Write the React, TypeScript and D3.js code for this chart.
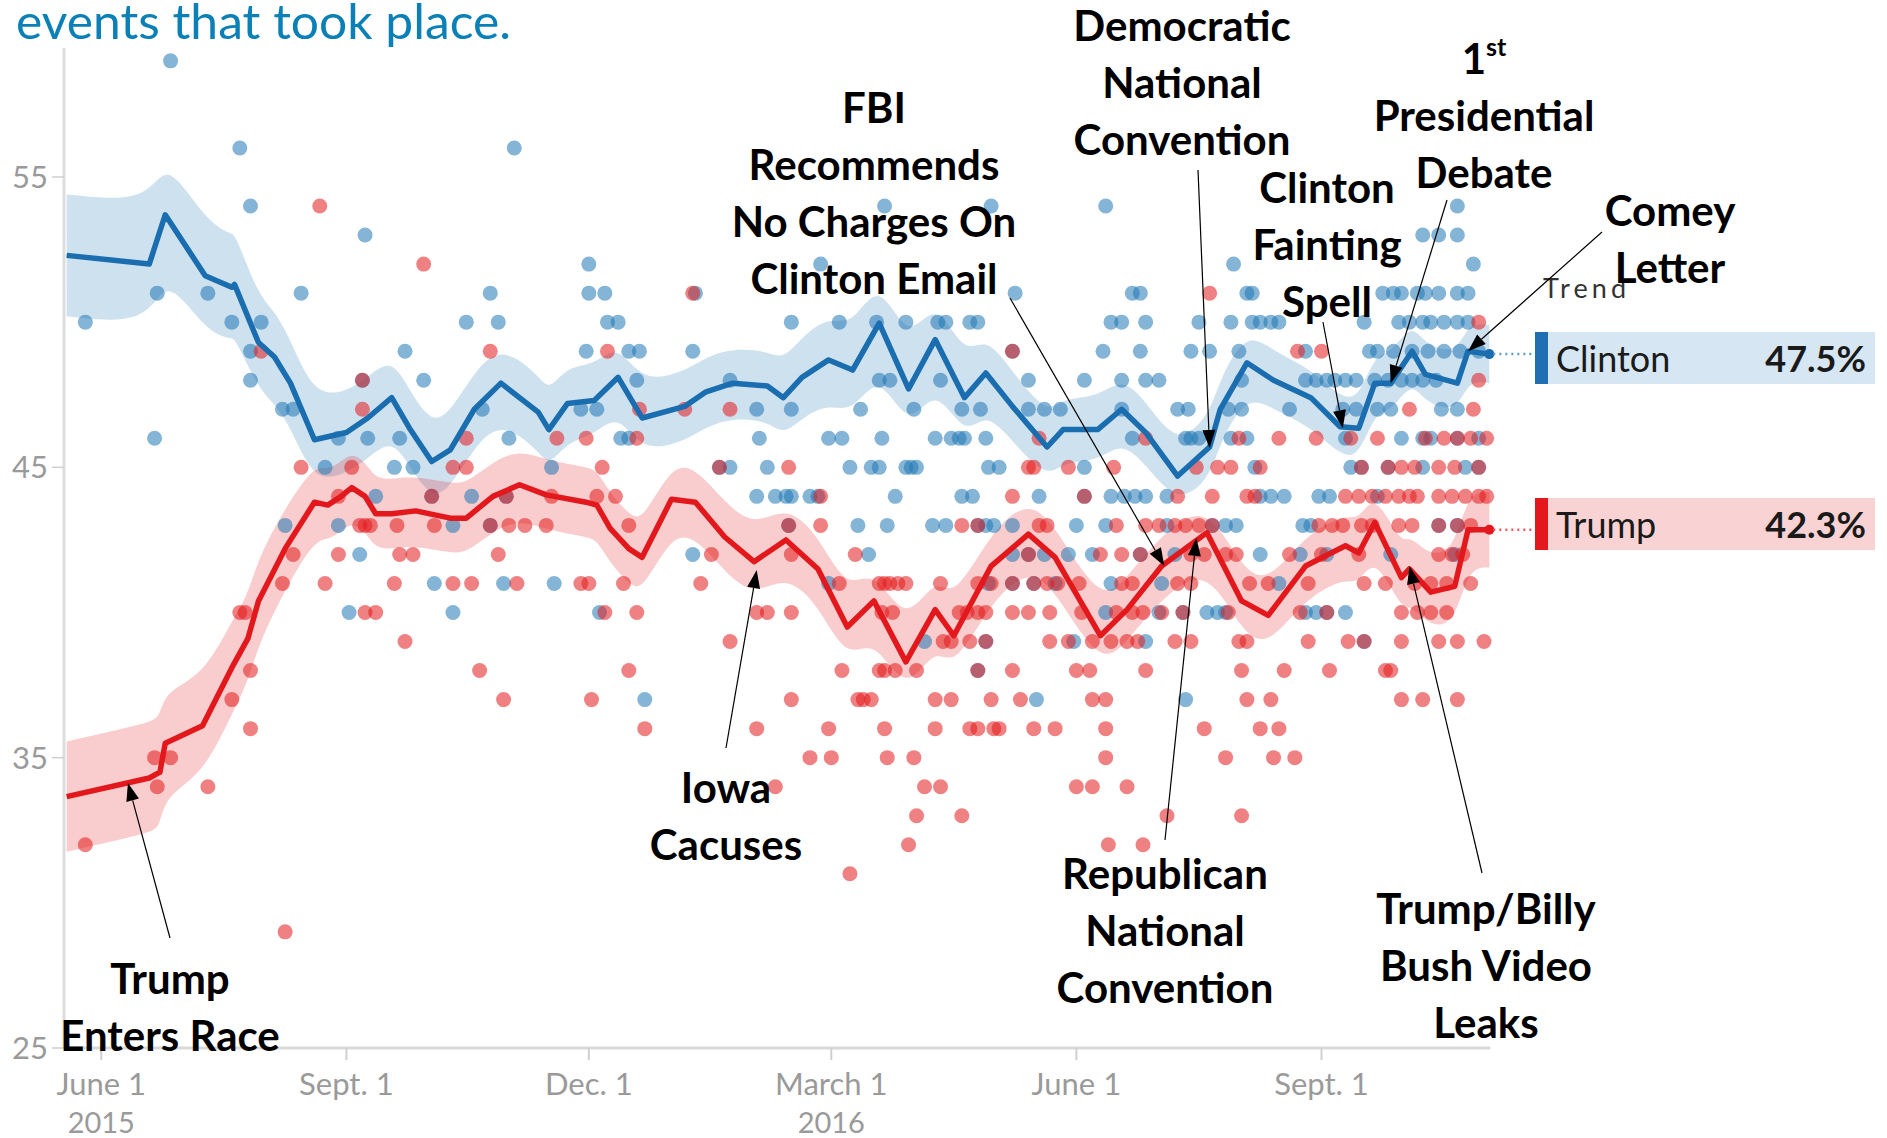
import React from "react";
import * as d3 from "d3";

// ---------- DATA ----------
const clintonTrend: [string, number][] = [
  ["2015-05-19", 52.3], ["2015-06-19", 52.0], ["2015-06-25", 53.7], ["2015-07-10", 51.6], ["2015-07-20", 51.2],
  ["2015-07-21", 51.3], ["2015-07-30", 49.3], ["2015-08-05", 48.8], ["2015-08-11", 47.9], ["2015-08-20", 45.95],
  ["2015-09-01", 46.2], ["2015-09-09", 46.7], ["2015-09-18", 47.4], ["2015-09-25", 46.3], ["2015-10-03", 45.2],
  ["2015-10-10", 45.6], ["2015-10-19", 47.0], ["2015-10-29", 47.9], ["2015-11-12", 46.9], ["2015-11-16", 46.3],
  ["2015-11-23", 47.2], ["2015-12-03", 47.3], ["2015-12-12", 48.1], ["2015-12-21", 46.7], ["2016-01-06", 47.1],
  ["2016-01-14", 47.6], ["2016-01-24", 47.9], ["2016-02-06", 47.8], ["2016-02-12", 47.4], ["2016-02-19", 48.1],
  ["2016-02-29", 48.7], ["2016-03-09", 48.35], ["2016-03-19", 49.97], ["2016-03-30", 47.7], ["2016-04-09", 49.4],
  ["2016-04-20", 47.4], ["2016-04-28", 48.25], ["2016-05-08", 47.1], ["2016-05-21", 45.7], ["2016-05-27", 46.3],
  ["2016-06-09", 46.3], ["2016-06-18", 47.0], ["2016-06-27", 46.2], ["2016-07-09", 44.7], ["2016-07-21", 45.7],
  ["2016-07-25", 47.0], ["2016-08-04", 48.6], ["2016-08-14", 48.0], ["2016-08-28", 47.4], ["2016-09-08", 46.4],
  ["2016-09-15", 46.35], ["2016-09-21", 47.9], ["2016-09-27", 47.9], ["2016-10-05", 49.0], ["2016-10-10", 48.2],
  ["2016-10-22", 47.9], ["2016-10-26", 49.0], ["2016-11-03", 48.9],
];
const clintonSpread: number[] = [
  2.1, 2.1, 2.0, 1.9, 1.8, 1.8, 1.6, 1.6, 1.5, 1.5,
  1.4, 1.4, 1.4, 1.3, 1.3, 1.3, 1.3, 1.3, 1.3, 1.3,
  1.3, 1.2, 1.2, 1.2, 1.2, 1.2, 1.2, 1.2, 1.3, 1.4,
  1.5, 1.5, 1.6, 1.5, 1.5, 1.4, 1.3, 1.2, 1.1, 1.1,
  1.1, 1.1, 1.1, 1.0, 1.1, 1.1, 1.1, 1.0, 1.0, 1.0,
  1.0, 1.0, 1.0, 1.0, 1.0, 1.0, 1.0, 1.0,
];
const trumpTrend: [string, number][] = [
  ["2015-05-19", 33.66], ["2015-06-19", 34.3], ["2015-06-23", 34.5], ["2015-06-25", 35.5], ["2015-07-09", 36.1],
  ["2015-07-20", 38.1], ["2015-07-26", 39.1], ["2015-07-30", 40.4], ["2015-08-09", 42.2], ["2015-08-20", 43.8],
  ["2015-08-25", 43.7], ["2015-08-30", 44.0], ["2015-09-03", 44.3], ["2015-09-08", 44.0], ["2015-09-12", 43.4],
  ["2015-09-18", 43.4], ["2015-09-27", 43.5], ["2015-10-10", 43.25], ["2015-10-16", 43.25], ["2015-10-26", 44.0],
  ["2015-11-05", 44.4], ["2015-11-15", 44.05], ["2015-11-30", 43.8], ["2015-12-04", 43.7], ["2015-12-09", 42.9],
  ["2015-12-16", 42.2], ["2015-12-21", 41.9], ["2016-01-01", 43.9], ["2016-01-10", 43.8], ["2016-01-21", 42.6],
  ["2016-02-01", 41.75], ["2016-02-13", 42.5], ["2016-02-25", 41.5], ["2016-03-07", 39.5], ["2016-03-17", 40.4],
  ["2016-03-29", 38.3], ["2016-04-09", 40.1], ["2016-04-16", 39.2], ["2016-04-30", 41.6], ["2016-05-14", 42.7],
  ["2016-05-24", 41.9], ["2016-06-10", 39.2], ["2016-06-20", 40.1], ["2016-07-03", 41.6], ["2016-07-20", 42.75],
  ["2016-08-02", 40.4], ["2016-08-12", 39.9], ["2016-08-26", 41.6], ["2016-09-10", 42.3], ["2016-09-15", 42.05],
  ["2016-09-21", 43.1], ["2016-10-01", 41.2], ["2016-10-04", 41.5], ["2016-10-12", 40.7], ["2016-10-21", 40.9],
  ["2016-10-26", 42.85], ["2016-11-03", 42.85],
];
const trumpSpread: number[] = [
  1.9, 1.9, 1.9, 1.8, 1.7, 1.6, 1.5, 1.5, 1.4, 1.3,
  1.2, 1.2, 1.2, 1.2, 1.2, 1.2, 1.2, 1.2, 1.2, 1.2,
  1.2, 1.2, 1.2, 1.2, 1.2, 1.2, 1.2, 1.2, 1.2, 1.2,
  1.2, 1.2, 1.2, 1.2, 1.2, 1.2, 1.2, 1.2, 1.2, 1.2,
  1.1, 1.1, 1.1, 1.1, 1.1, 1.1, 1.1, 1.1, 1.1, 1.1,
  1.1, 1.1, 1.2, 1.2, 1.3, 1.3, 1.3,
];

// polls grouped by value: [value, dates]
const clintonPolls: [number, string[]][] = [
  [59, ["2015-06-27"]],
  [56, ["2015-07-23", "2015-11-03"]],
  [54, ["2015-07-27", "2016-03-21", "2016-04-30", "2016-06-12", "2016-10-22"]],
  [53, ["2015-09-08", "2016-10-09", "2016-10-15", "2016-10-22"]],
  [52, ["2015-12-01", "2016-02-26", "2016-07-30", "2016-10-28"]],
  [51, ["2015-06-22", "2015-07-11", "2015-08-15", "2015-10-25", "2015-12-01", "2015-12-07", "2016-01-10", "2016-05-09", "2016-06-22", "2016-06-25", "2016-08-04", "2016-08-06", "2016-09-24", "2016-09-28", "2016-10-01", "2016-10-07", "2016-10-10", "2016-10-15", "2016-10-22", "2016-10-26"]],
  [50, ["2015-05-26", "2015-07-20", "2015-07-31", "2015-10-16", "2015-10-28", "2015-12-08", "2015-12-12", "2016-02-15", "2016-03-04", "2016-03-18", "2016-03-29", "2016-04-10", "2016-04-13", "2016-04-22", "2016-04-25", "2016-06-14", "2016-06-18", "2016-06-27", "2016-07-17", "2016-07-29", "2016-08-06", "2016-08-09", "2016-08-13", "2016-08-16", "2016-09-17", "2016-09-30", "2016-10-04", "2016-10-09", "2016-10-12", "2016-10-17", "2016-10-22", "2016-10-26"]],
  [49, ["2015-07-27", "2015-09-23", "2015-11-30", "2015-12-16", "2015-12-20", "2016-01-09", "2016-05-08", "2016-06-11", "2016-06-25", "2016-07-14", "2016-07-21", "2016-08-01", "2016-08-26", "2016-09-19", "2016-09-22", "2016-09-28", "2016-10-05", "2016-10-11", "2016-10-17", "2016-10-23", "2016-10-30"]],
  [48, ["2015-07-27", "2015-09-07", "2015-09-30", "2015-12-19", "2016-01-23", "2016-03-19", "2016-03-23", "2016-04-11", "2016-05-14", "2016-06-04", "2016-06-18", "2016-06-27", "2016-07-02", "2016-08-02", "2016-08-26", "2016-08-30", "2016-09-03", "2016-09-06", "2016-09-10", "2016-09-14", "2016-09-21", "2016-09-26", "2016-10-01", "2016-10-05", "2016-10-09", "2016-10-14"]],
  [47, ["2015-08-08", "2015-08-12", "2015-10-22", "2015-11-28", "2015-12-04", "2016-02-02", "2016-02-15", "2016-03-12", "2016-04-01", "2016-04-19", "2016-04-26", "2016-05-14", "2016-05-20", "2016-05-26", "2016-06-18", "2016-07-09", "2016-07-13", "2016-07-28", "2016-08-02", "2016-08-20", "2016-09-09", "2016-09-14", "2016-09-22", "2016-09-27", "2016-10-16", "2016-10-22"]],
  [46, ["2015-06-21", "2015-08-29", "2015-09-09", "2015-09-21", "2015-11-01", "2015-12-13", "2015-12-16", "2016-02-03", "2016-02-29", "2016-03-05", "2016-03-20", "2016-04-09", "2016-04-15", "2016-04-18", "2016-04-20", "2016-04-28", "2016-06-22", "2016-07-12", "2016-07-14", "2016-07-17", "2016-07-29", "2016-08-04", "2016-09-10", "2016-10-01", "2016-10-09", "2016-10-12", "2016-10-22", "2016-10-30"]],
  [45, ["2015-08-24", "2015-09-19", "2015-09-26", "2015-11-17", "2016-01-19", "2016-01-23", "2016-02-06", "2016-03-08", "2016-03-16", "2016-03-19", "2016-03-29", "2016-03-31", "2016-04-02", "2016-04-29", "2016-05-03", "2016-06-04", "2016-08-07", "2016-09-12", "2016-09-16", "2016-09-26", "2016-10-09", "2016-10-25", "2016-10-30"]],
  [44, ["2015-09-12", "2015-10-03", "2015-10-18", "2015-10-31", "2016-02-02", "2016-02-09", "2016-02-13", "2016-02-15", "2016-02-22", "2016-02-25", "2016-03-25", "2016-04-19", "2016-04-23", "2016-05-18", "2016-06-04", "2016-06-14", "2016-06-19", "2016-06-23", "2016-06-27", "2016-07-05", "2016-08-09", "2016-08-13", "2016-08-18", "2016-08-31", "2016-09-04", "2016-09-22"]],
  [43, ["2015-08-09", "2015-08-29", "2015-10-11", "2015-10-25", "2016-02-14", "2016-03-11", "2016-03-22", "2016-04-08", "2016-04-13", "2016-04-25", "2016-04-28", "2016-05-01", "2016-05-08", "2016-06-01", "2016-06-12", "2016-07-05", "2016-07-22", "2016-07-27", "2016-07-31", "2016-08-25", "2016-08-28", "2016-10-15", "2016-10-22"]],
  [42, ["2015-09-06", "2016-01-09", "2016-03-15", "2016-05-08", "2016-05-14", "2016-05-20", "2016-05-29", "2016-06-07", "2016-06-25", "2016-07-08", "2016-08-09", "2016-08-24", "2016-09-03", "2016-09-27", "2016-10-21"]],
  [41, ["2015-10-04", "2015-10-30", "2015-11-18", "2016-02-29", "2016-04-29", "2016-05-08", "2016-05-16", "2016-05-24", "2016-06-14", "2016-07-03", "2016-08-16"]],
  [40, ["2015-09-02", "2015-10-11", "2015-12-05", "2016-06-12", "2016-07-02", "2016-07-11", "2016-07-20", "2016-07-24", "2016-07-27", "2016-08-26", "2016-08-30", "2016-09-03", "2016-09-10"]],
  [39, ["2016-04-05", "2016-04-28", "2016-05-31", "2016-06-27", "2016-09-17"]],
  [38, ["2016-04-25"]],
  [37, ["2015-12-22", "2016-05-17", "2016-07-12"]],
];
const trumpPolls: [number, string[]][] = [
  [54, ["2015-08-22"]],
  [52, ["2015-09-30"]],
  [51, ["2016-01-09", "2016-07-21"]],
  [50, ["2016-10-30"]],
  [49, ["2015-07-31", "2015-10-25", "2015-12-08", "2016-05-08", "2016-08-23", "2016-09-01"]],
  [48, ["2015-09-07", "2016-10-30"]],
  [47, ["2015-09-07", "2015-12-20", "2016-01-06", "2016-01-23", "2016-10-04", "2016-10-28"]],
  [46, ["2015-10-16", "2015-11-19", "2015-11-30", "2015-12-19", "2016-05-18", "2016-06-27", "2016-08-01", "2016-08-16", "2016-08-30", "2016-09-12", "2016-09-22", "2016-10-10", "2016-10-17", "2016-10-22", "2016-10-27", "2016-11-02"]],
  [45, ["2015-08-15", "2015-09-03", "2015-10-11", "2015-10-16", "2015-12-06", "2016-01-19", "2016-02-14", "2016-05-14", "2016-05-16", "2016-05-29", "2016-06-15", "2016-07-16", "2016-07-24", "2016-07-29", "2016-08-09", "2016-09-16", "2016-09-26", "2016-10-01", "2016-10-06", "2016-10-15", "2016-10-21", "2016-10-30"]],
  [44, ["2015-08-29", "2015-10-03", "2015-10-31", "2015-11-17", "2015-12-04", "2015-12-11", "2016-02-26", "2016-05-08", "2016-06-04", "2016-07-09", "2016-07-22", "2016-08-04", "2016-08-07", "2016-09-10", "2016-09-15", "2016-09-20", "2016-09-25", "2016-09-30", "2016-10-04", "2016-10-07", "2016-10-15", "2016-10-20", "2016-10-25", "2016-10-30", "2016-11-02"]],
  [43, ["2015-09-06", "2015-09-08", "2015-09-10", "2015-09-20", "2015-10-04", "2015-10-25", "2015-11-01", "2015-11-07", "2015-11-15", "2015-12-16", "2016-02-14", "2016-02-26", "2016-04-19", "2016-04-25", "2016-05-18", "2016-05-21", "2016-06-16", "2016-06-27", "2016-07-02", "2016-07-08", "2016-07-12", "2016-07-17", "2016-07-22", "2016-08-31", "2016-09-05", "2016-09-09", "2016-09-16", "2016-09-20", "2016-09-30", "2016-10-05", "2016-10-15", "2016-10-22", "2016-10-27"]],
  [42, ["2015-08-12", "2015-08-29", "2015-09-21", "2015-09-26", "2015-10-28", "2016-01-16", "2016-02-15", "2016-03-10", "2016-05-14", "2016-06-10", "2016-06-18", "2016-06-25", "2016-07-14", "2016-07-19", "2016-07-27", "2016-07-31", "2016-08-20", "2016-09-01", "2016-09-15", "2016-10-15", "2016-10-20", "2016-10-24"]],
  [41, ["2015-08-08", "2015-08-24", "2015-09-19", "2015-10-11", "2015-10-18", "2015-11-04", "2015-11-28", "2015-12-01", "2015-12-14", "2016-01-12", "2016-03-04", "2016-03-19", "2016-03-21", "2016-03-23", "2016-03-26", "2016-03-29", "2016-04-11", "2016-04-25", "2016-04-30", "2016-05-08", "2016-05-16", "2016-05-21", "2016-05-25", "2016-06-02", "2016-06-18", "2016-06-22", "2016-07-09", "2016-07-14", "2016-08-05", "2016-08-12", "2016-08-27", "2016-09-17", "2016-09-25", "2016-10-06", "2016-10-12", "2016-10-18", "2016-10-27"]],
  [40, ["2015-07-23", "2015-07-25", "2015-09-08", "2015-09-12", "2015-12-07", "2015-12-19", "2016-02-02", "2016-02-06", "2016-02-15", "2016-03-20", "2016-03-24", "2016-04-18", "2016-04-21", "2016-04-25", "2016-04-28", "2016-05-08", "2016-05-14", "2016-05-22", "2016-06-03", "2016-06-16", "2016-06-22", "2016-06-26", "2016-07-03", "2016-07-11", "2016-07-28", "2016-08-24", "2016-09-03", "2016-10-01", "2016-10-07", "2016-10-12", "2016-10-18"]],
  [39, ["2015-09-23", "2016-01-23", "2016-04-12", "2016-04-15", "2016-04-22", "2016-04-28", "2016-05-22", "2016-05-29", "2016-06-07", "2016-06-14", "2016-06-20", "2016-06-24", "2016-07-08", "2016-07-14", "2016-08-01", "2016-08-04", "2016-08-27", "2016-09-11", "2016-09-17", "2016-10-01", "2016-10-15", "2016-10-22", "2016-11-01"]],
  [38, ["2015-07-27", "2015-10-21", "2015-12-16", "2016-03-05", "2016-03-19", "2016-03-21", "2016-03-25", "2016-04-02", "2016-04-25", "2016-05-08", "2016-06-01", "2016-06-06", "2016-06-27", "2016-08-02", "2016-08-18", "2016-09-04", "2016-09-25", "2016-09-27"]],
  [37, ["2015-07-20", "2015-10-30", "2015-12-02", "2016-02-15", "2016-03-11", "2016-03-13", "2016-03-16", "2016-04-09", "2016-04-15", "2016-04-30", "2016-05-11", "2016-06-07", "2016-06-12", "2016-08-04", "2016-08-13", "2016-10-01", "2016-10-09", "2016-10-22"]],
  [36, ["2015-07-27", "2015-12-22", "2016-02-02", "2016-02-29", "2016-03-21", "2016-04-09", "2016-04-22", "2016-04-25", "2016-05-01", "2016-05-03", "2016-05-16", "2016-05-24", "2016-06-12", "2016-07-19", "2016-08-09", "2016-08-16"]],
  [35, ["2015-06-21", "2015-06-27", "2016-02-22", "2016-03-01", "2016-03-22", "2016-04-01", "2016-06-12", "2016-07-27", "2016-08-14", "2016-08-22"]],
  [34, ["2015-06-22", "2015-07-11", "2016-02-09", "2016-04-05", "2016-04-11", "2016-06-01", "2016-06-07", "2016-06-20"]],
  [33, ["2016-04-02", "2016-04-19", "2016-07-05", "2016-08-02"]],
  [32, ["2015-05-26", "2016-03-30", "2016-06-13", "2016-06-26"]],
  [31, ["2016-03-08"]],
  [29, ["2015-08-09"]],
];

const yTicks = [25, 35, 45, 55];
const xTickDates = ["2015-06-01", "2015-09-01", "2015-12-01", "2016-03-01", "2016-06-01", "2016-09-01"];
const xTickLabels = ["June 1", "Sept. 1", "Dec. 1", "March 1", "June 1", "Sept. 1"];
const xTickYears = ["2015", "", "", "2016", "", ""];

const legendNames = ["Clinton", "Trump"];
const legendValues = ["47.5%", "42.3%"];

const eventLines: string[][] = [
  ["Trump", "Enters Race"],
  ["Iowa", "Cacuses"],
  ["FBI", "Recommends", "No Charges On", "Clinton Email"],
  ["Democratic", "National", "Convention"],
  ["Republican", "National", "Convention"],
  ["Clinton", "Fainting", "Spell"],
  ["1|st", "Presidential", "Debate"],
  ["Comey", "Letter"],
  ["Trump/Billy", "Bush Video", "Leaks"],
];
const eventDates = ["2015-06-11", "2016-02-02", "2016-07-04", "2016-07-21", "2016-07-16", "2016-09-09", "2016-09-27", "2016-10-26", "2016-10-04"];
const eventValues = [34.13, 41.46, 41.6, 45.67, 42.57, 46.35, 47.9, 49.0, 41.6];

// ---------- LAYOUT ----------
const W = 1887;
const H = 1138;
const eventLayout = [
  { cx: 170, base: 994, tail: [170, 938] },
  { cx: 726, base: 803, tail: [726, 748] },
  { cx: 874, base: 123, tail: [1010, 298] },
  { cx: 1182, base: 41, tail: [1198, 170] },
  { cx: 1165, base: 889, tail: [1165, 840] },
  { cx: 1327, base: 203, tail: [1323, 322] },
  { cx: 1484, base: 74, tail: [1447, 200] },
  { cx: 1670, base: 226, tail: [1602, 232] },
  { cx: 1486, base: 924, tail: [1482, 873] },
];

const parse = d3.timeParse("%Y-%m-%d");

export default function App() {
  const x = d3.scaleTime().domain([parse("2015-05-18")!, parse("2016-11-04")!]).range([64, 1492]);
  const y = d3.scaleLinear().domain([25, 55]).range([1048, 177]);

  const line = d3.line<[string, number]>().x((d) => x(parse(d[0])!)).y((d) => y(d[1]));
  const band = (trend: [string, number][], spread: number[]) =>
    d3
      .area<number>()
      .x((i) => x(parse(trend[i][0])!))
      .y0((i) => y(trend[i][1] - spread[i]))
      .y1((i) => y(trend[i][1] + spread[i]))
      .curve(d3.curveBasis)(d3.range(trend.length)) || "";

  const flat = (rows: [number, string[]][]) => rows.flatMap(([v, ds]) => ds.map((d) => [d, v] as [string, number]));

  const blue = "#1f77b4";
  const red = "#e31a1c";
  const font = "Lato, 'Noto Sans', sans-serif";

  const cLast = clintonTrend[clintonTrend.length - 1];
  const tLast = trumpTrend[trumpTrend.length - 1];

  return (
    <svg width={W} height={H} style={{ position: "absolute", left: 0, top: 0, background: "#fff" }}>
      <rect x={0} y={0} width={W} height={H} fill="#fff" />
      <text x={16} y={39} fontFamily={font} fontSize={49} fill="#0b80b6" textLength={495} lengthAdjust="spacingAndGlyphs">
        events that took place.
      </text>

      {/* axes */}
      <line x1={64} x2={64} y1={48} y2={1048} stroke="#dcdcdc" strokeWidth={3} />
      <line x1={64} x2={1490} y1={1048} y2={1048} stroke="#d9d9d9" strokeWidth={3} />
      {yTicks.map((t) => (
        <g key={"y" + t}>
          <line x1={52} x2={64} y1={y(t)} y2={y(t)} stroke="#cfcfcf" strokeWidth={1.5} />
          <text x={48} y={y(t)} dy="0.36em" textAnchor="end" fontFamily={font} fontSize={31} fill="#9a9a9a">
            {t}
          </text>
        </g>
      ))}
      {xTickDates.map((d, i) => {
        const xx = x(parse(d)!);
        return (
          <g key={"x" + i}>
            <line x1={xx} x2={xx} y1={1048} y2={1060} stroke="#d0d0d0" strokeWidth={2} />
            <text x={xx} y={1095} textAnchor="middle" fontFamily={font} fontSize={31} fill="#9a9a9a">
              {xTickLabels[i]}
            </text>
            {xTickYears[i] && (
              <text x={xx} y={1133} textAnchor="middle" fontFamily={font} fontSize={29} fill="#9a9a9a">
                {xTickYears[i]}
              </text>
            )}
          </g>
        );
      })}

      {/* bands */}
      <path d={band(clintonTrend, clintonSpread)} fill={blue} fillOpacity={0.22} />
      <path d={band(trumpTrend, trumpSpread)} fill={red} fillOpacity={0.22} />

      {/* polls */}
      {flat(clintonPolls).map((p, i) => (
        <circle key={"cp" + i} cx={x(parse(p[0])!)} cy={y(p[1])} r={7.5} fill={blue} fillOpacity={0.55} />
      ))}
      {flat(trumpPolls).map((p, i) => (
        <circle key={"tp" + i} cx={x(parse(p[0])!)} cy={y(p[1])} r={7.5} fill={red} fillOpacity={0.55} />
      ))}

      {/* trend lines */}
      <path d={line(clintonTrend) || ""} fill="none" stroke="#1a6eb0" strokeWidth={5.5} strokeLinejoin="round" />
      <path d={line(trumpTrend) || ""} fill="none" stroke="#e2181d" strokeWidth={5.5} strokeLinejoin="round" />
      <circle cx={x(parse(cLast[0])!)} cy={y(cLast[1])} r={5} fill="#1a6eb0" />
      <circle cx={x(parse(tLast[0])!)} cy={y(tLast[1])} r={5} fill="#e2181d" />

      {/* legend */}
      <text x={1543} y={298} fontFamily={font} fontSize={27} fill="#333" textLength={83} lengthAdjust="spacing">
        Trend
      </text>
      {[cLast, tLast].map((last, i) => {
        const top = i === 0 ? 332 : 498;
        const ly = y(last[1]);
        const col = i === 0 ? "#1f6fb2" : "#e3171c";
        return (
          <g key={"lg" + i}>
            <line x1={x(parse(last[0])!) + 4} x2={1535} y1={ly} y2={ly} stroke={i === 0 ? "#5b9bd0" : "#ea5a5d"} strokeWidth={2.5} strokeDasharray="2,4" />
            <rect x={1535} y={top} width={340} height={52} fill={i === 0 ? "#d6e6f3" : "#f9d3d4"} />
            <rect x={1535} y={top} width={13} height={52} fill={col} />
            <text x={1556} y={top + 40} fontFamily={font} fontSize={36} fill="#1a1a1a">
              {legendNames[i]}
            </text>
            <text x={1866} y={top + 40} textAnchor="end" fontFamily={font} fontWeight={700} fontSize={36} fill="#1a1a1a">
              {legendValues[i]}
            </text>
          </g>
        );
      })}

      {/* annotations */}
      {eventLines.map((lines, i) => {
        const lay = eventLayout[i];
        const tx = x(parse(eventDates[i])!);
        const ty = y(eventValues[i]);
        const [sx, sy] = lay.tail;
        const ang = Math.atan2(ty - sy, tx - sx);
        const L = 18;
        const hw = 6.5;
        const bx = tx - L * Math.cos(ang);
        const by = ty - L * Math.sin(ang);
        const px = -Math.sin(ang) * hw;
        const py = Math.cos(ang) * hw;
        return (
          <g key={"ev" + i}>
            {lines.map((ln, j) => {
              const parts = ln.split("|");
              return (
                <text key={j} x={lay.cx} y={lay.base + j * 57} textAnchor="middle" fontFamily={font} fontWeight={700} fontSize={42} fill="#000">
                  {parts[0]}
                  {parts[1] && (
                    <tspan fontSize={25} dy={-18}>
                      {parts[1]}
                    </tspan>
                  )}
                </text>
              );
            })}
            <line x1={sx} y1={sy} x2={bx} y2={by} stroke="#000" strokeWidth={1.2} />
            <polygon points={`${tx},${ty} ${bx + px},${by + py} ${bx - px},${by - py}`} fill="#000" />
          </g>
        );
      })}
    </svg>
  );
}
